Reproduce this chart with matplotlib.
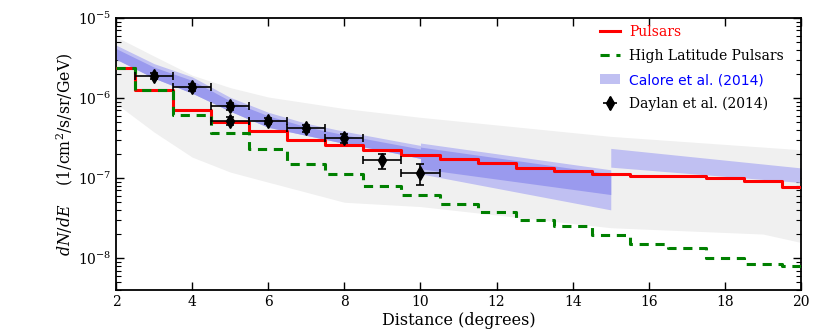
import numpy as np
import matplotlib
matplotlib.use("Agg")
import matplotlib.pyplot as plt
from matplotlib.patches import Patch
from matplotlib.lines import Line2D
from matplotlib.ticker import LogLocator, LogFormatterSciNotation, NullFormatter

plt.rcParams['font.family'] = ['DejaVu Serif']
plt.rcParams['mathtext.fontset'] = 'dejavuserif'
plt.rcParams['axes.unicode_minus'] = False

# ---- data ----
bin_centers = [2, 3, 4, 5, 6, 7, 8, 9, 10, 11, 12, 13, 14, 15, 16, 17, 18, 19, 20]
pulsars = [2.34e-6, 1.25e-6, 7.18e-7, 5.02e-7, 3.87e-7, 3.02e-7, 2.56e-7, 2.22e-7, 1.92e-7,
           1.71e-7, 1.54e-7, 1.35e-7, 1.24e-7, 1.13e-7, 1.06e-7, 1.07e-7, 1.01e-7, 9.25e-8, 7.85e-8]
high_lat = [2.34e-6, 1.25e-6, 6.09e-7, 3.62e-7, 2.28e-7, 1.51e-7, 1.12e-7, 8.07e-8, 6.23e-8,
            4.81e-8, 3.74e-8, 3.03e-8, 2.52e-8, 1.96e-8, 1.49e-8, 1.34e-8, 1.01e-8, 8.43e-9, 7.96e-9]

grey_x = [2, 3, 4, 5, 6, 8, 10, 15, 19, 20]
grey_upper = [5.83e-6, 3.34e-6, 1.93e-6, 1.35e-6, 1.03e-6, 7.39e-7, 5.74e-7, 3.32e-7, 2.44e-7, 2.26e-7]
grey_lower = [8.53e-7, 3.76e-7, 1.83e-7, 1.19e-7, 8.89e-8, 4.99e-8, 4.41e-8, 2.40e-8, 2.00e-8, 1.57e-8]

# Calore et al. (2014) band, segment 1 (2-10)
cal1_x = [2, 3, 4, 5, 6, 7, 8, 9, 10]
cal1_top = [4.59e-6, 2.69e-6, 1.84e-6, 1.02e-6, 6.64e-7, 4.83e-7, 3.84e-7, 3.13e-7, 2.56e-7]
cal1_inner_top = [4.15e-6, 2.43e-6, 1.66e-6, 9.2e-7, 6.0e-7, 4.37e-7, 3.47e-7, 2.83e-7, 2.31e-7]
cal1_bottom = [3.06e-6, 1.77e-6, 1.15e-6, 6.84e-7, 4.31e-7, 3.42e-7, 2.71e-7, 2.22e-7, 1.76e-7]
# segment 2 (10-15)
cal2_x = [10, 15]
cal2_top = [2.74e-7, 1.27e-7]
cal2_bottom = [1.13e-7, 4.01e-8]
cal2_inner_top = [2.44e-7, 1.13e-7]
cal2_inner_bottom = [1.31e-7, 6.23e-8]
# segment 3 (15-20)
cal3_x = [15, 20]
cal3_top = [2.35e-7, 1.34e-7]
cal3_bottom = [1.37e-7, 8.81e-8]

daylan_x = [3, 4, 5, 5, 6, 7, 8, 9, 10]
daylan_y = [1.88e-6, 1.37e-6, 7.89e-7, 5.16e-7, 5.19e-7, 4.22e-7, 3.13e-7, 1.66e-7, 1.15e-7]
daylan_yerr = [1.7e-7, 1.3e-7, 9e-8, 6e-8, 5e-8, 4.5e-8, 4e-8, 3.6e-8, 3.3e-8]
daylan_xerr = 0.5

x_ticks = [2, 4, 6, 8, 10, 12, 14, 16, 18, 20]

# ---- figure ----
fig = plt.figure(figsize=(8.3, 3.32), dpi=100)
ax = fig.add_axes([0.1398, 0.1265, 0.8253, 0.8193])

light_blue = '#c0c0f2'
dark_blue = '#9a9aee'

ax.fill_between(grey_x, grey_lower, grey_upper, color='#f0f0f0', lw=0, zorder=1)

ax.fill_between(cal1_x, cal1_bottom, cal1_top, color=light_blue, lw=0, zorder=2)
ax.fill_between(cal1_x, cal1_bottom, cal1_inner_top, color=dark_blue, lw=0, zorder=2)
ax.fill_between(cal2_x, cal2_bottom, cal2_top, color=light_blue, lw=0, zorder=2)
ax.fill_between(cal2_x, cal2_inner_bottom, cal2_inner_top, color=dark_blue, lw=0, zorder=2)
ax.fill_between(cal3_x, cal3_bottom, cal3_top, color=light_blue, lw=0, zorder=2)

ax.step(bin_centers, pulsars, where='mid', color='red', lw=2.2, zorder=3)
ax.step(bin_centers, high_lat, where='mid', color='green', lw=2.2, zorder=4,
        dashes=(3.0, 2.2))

ax.errorbar(daylan_x, daylan_y, xerr=daylan_xerr, yerr=daylan_yerr, fmt='d',
            color='black', ms=7, elinewidth=1.2, capsize=3, capthick=1.2, zorder=5)

ax.set_yscale('log')
ax.set_xlim(2, 20)
ax.set_ylim(4e-9, 1e-5)
ax.set_xticks(x_ticks)
ax.set_xticklabels([str(t) for t in x_ticks])
ax.yaxis.set_major_locator(LogLocator(base=10))
ax.yaxis.set_major_formatter(LogFormatterSciNotation())
ax.yaxis.set_minor_locator(LogLocator(base=10, subs=np.arange(2, 10)))
ax.yaxis.set_minor_formatter(NullFormatter())

ax.tick_params(which='both', direction='in', top=True, right=True, labelsize=10)
ax.tick_params(which='major', length=6, width=1)
ax.tick_params(which='minor', length=3.5, width=0.8)
for s in ax.spines.values():
    s.set_linewidth(1.3)

ax.set_xlabel('Distance (degrees)', fontsize=11.5, labelpad=2)
ax.set_ylabel(r'$dN/dE\ \ \ \ (1/\mathrm{cm}^2/\mathrm{s}/\mathrm{sr}/\mathrm{GeV})$', fontsize=11.3)
ax.yaxis.set_label_coords(-0.06, 0.5)

handles = [
    Line2D([], [], color='red', lw=2.2),
    Line2D([], [], color='green', lw=2.2, dashes=(3.0, 2.2)),
    Patch(facecolor=light_blue, edgecolor='none'),
    ax.errorbar([], [], xerr=[], yerr=[], fmt='d', color='black', ms=7,
                elinewidth=1.2, capsize=3, capthick=1.2),
]
labels = ['Pulsars', 'High Latitude Pulsars', 'Calore et al. (2014)', 'Daylan et al. (2014)']
leg = ax.legend(handles, labels, loc='upper left', frameon=False, fontsize=10,
                handlelength=1.5, handletextpad=0.6, labelspacing=0.71,
                borderpad=0, borderaxespad=0,
                bbox_to_anchor=(0.706, 0.973))
texts = leg.get_texts()
texts[0].set_color('red')
texts[2].set_color('blue')
texts[2].set_fontfamily('DejaVu Sans')

fig.savefig('out.png', dpi=100)
